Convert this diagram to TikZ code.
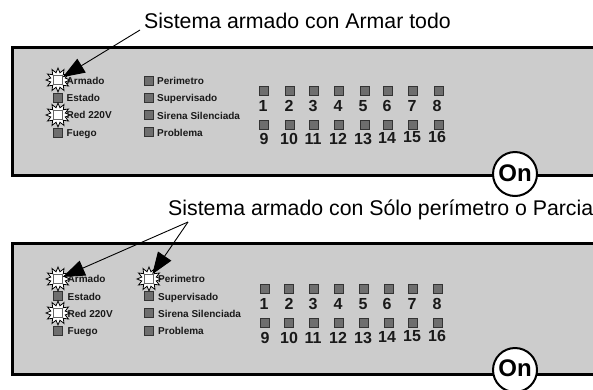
\documentclass[tikz,border=0pt]{standalone}
\usepackage{fontspec}
\setmainfont{Liberation Sans}
\usetikzlibrary{shapes.geometric,arrows.meta}
\definecolor{panelgray}{HTML}{CCCCCC}
\definecolor{ledgray}{HTML}{6E6E6E}
\tikzset{
  x=1pt,y=-1pt,
  panelbox/.style={draw=black,line width=3pt,fill=panelgray},
  ledoff/.style={rectangle,draw=black!80,line width=1.1pt,fill=ledgray,minimum size=8.5pt,inner sep=0pt},
  ledon/.style={rectangle,draw=black!60,line width=1pt,fill=white,minimum size=8.5pt,inner sep=0pt},
  burst/.style={star,star points=12,star point ratio=1.6,draw=black,line width=.8pt,fill=white,minimum size=24pt,inner sep=0pt},
  lbl/.style={anchor=base west,inner sep=0pt,font=\fontsize{10}{12}\selectfont\bfseries,text=black!90},
  num/.style={anchor=base,inner sep=0pt,font=\fontsize{16}{18}\selectfont\bfseries,text=black!90},
  title/.style={anchor=base west,inner sep=0pt,font=\fontsize{21.3}{24}\selectfont},
  onring/.style={circle,draw=black,line width=2pt,fill=white,minimum size=44pt,inner sep=0pt},
  ontext/.style={inner sep=0pt,font=\fontsize{24}{26}\selectfont\bfseries},
  pointer/.style={draw=black,line width=.9pt,-{Triangle[length=22pt,width=16pt]}},
}
\begin{document}
\begin{tikzpicture}
\useasboundingbox (0,0) rectangle (593,389);
\begin{scope}
\clip (0,0) rectangle (593,389);
% ---- panel 1
\draw[panelbox] (600,47) -- (12.5,47) -- (12.5,175.5) -- (600,175.5);
\node[onring] (ring1) at (515,174) {};
\node[ontext] (on1) at (515,173) {On};
\node[title] (t1) at (144,28) {Sistema armado con Armar todo};
\coordinate (p1) at (140,30);
\foreach \n/\y/\s in {a/84/Armado,b/101.5/Estado,c/118.5/Red 220V,d/136.5/Fuego}
  \node[lbl] (l1\n) at (66.5,\y) {\s};
\foreach \n/\y/\s in {a/84.5/Perimetro,b/101.5/Supervisado,c/119/Sirena Silenciada,d/136/Problema}
  \node[lbl] (m1\n) at (157,\y) {\s};
\node[ledoff] (e1) at (58,98) {};
\node[ledoff] (e2) at (58,133) {};
\node[burst] (s1) at (58,80) {};
\node[ledon] (led1a) at (58,80) {};
\node[burst] (s2) at (58,115) {};
\node[ledon] (led1c) at (58,115) {};
\foreach \n/\y in {a/81,b/98,c/115,d/132}
  \node[ledoff] (g1\n) at (149,\y) {};
\foreach \i/\x/\lx in {1/264/263,2/290/289,3/314/313,4/339/338,5/365/363,6/388/387,7/413/412,8/439/437}{
  \node[ledoff] (z\i) at (\x,91) {};
  \node[num] (zn\i) at (\lx,111) {\i};
}
\foreach \i/\x/\lx/\ly in {9/264/264/144,10/290/289/144,11/314/313/144,12/339/338/144,13/365/363/144,14/388/387/143,15/413/412/142,16/439/437/142}{
  \node[ledoff] (z\i) at (\x,125) {};
  \node[num] (zn\i) at (\lx,\ly) {\i};
}
\draw[pointer] (p1) -- (led1a);
% ---- panel 2
\draw[panelbox] (600,243) -- (12.5,243) -- (12.5,374) -- (600,374);
\node[onring] (ring2) at (515,370) {};
\node[ontext] (on2) at (515,368) {On};
\node[title] (t2) at (168,215) {Sistema armado con Sólo perímetro o Parcia};
\coordinate (p2) at (188,222);
\foreach \n/\y/\s in {a/282.5/Armado,b/300/Estado,c/317/Red 220V,d/334.5/Fuego}
  \node[lbl] (l2\n) at (67.5,\y) {\s};
\foreach \n/\y/\s in {a/282.5/Perimetro,b/300/Supervisado,c/317/Sirena Silenciada,d/334.5/Problema}
  \node[lbl] (m2\n) at (158,\y) {\s};
\node[ledoff] (f1) at (58,296) {};
\node[ledoff] (f2) at (58,331) {};
\node[burst] (s3) at (58,279) {};
\node[ledon] (led2a) at (58,279) {};
\node[burst] (s4) at (58,313) {};
\node[ledon] (led2c) at (58,313) {};
\node[burst] (s5) at (149,279) {};
\node[ledon] (led2p) at (149,279) {};
\foreach \n/\y in {b/296,c/313,d/331}
  \node[ledoff] (h2\n) at (149,\y) {};
\foreach \i/\x/\lx in {1/265/264,2/289/289,3/314/313,4/339/338,5/364/363,6/389/387,7/413/412,8/438/437}{
  \node[ledoff] (y\i) at (\x,289) {};
  \node[num] (yn\i) at (\lx,309) {\i};
}
\foreach \i/\x/\lx/\ly in {9/265/265/343,10/289/289/343,11/314/313/343,12/339/338/343,13/364/363/343,14/389/387/342,15/413/412/341,16/438/437/341}{
  \node[ledoff] (y\i) at (\x,323) {};
  \node[num] (yn\i) at (\lx,\ly) {\i};
}
\draw[pointer] (p2) -- (led2a);
\draw[pointer] (p2) -- (led2p);
\end{scope}
\end{tikzpicture}
\end{document}
